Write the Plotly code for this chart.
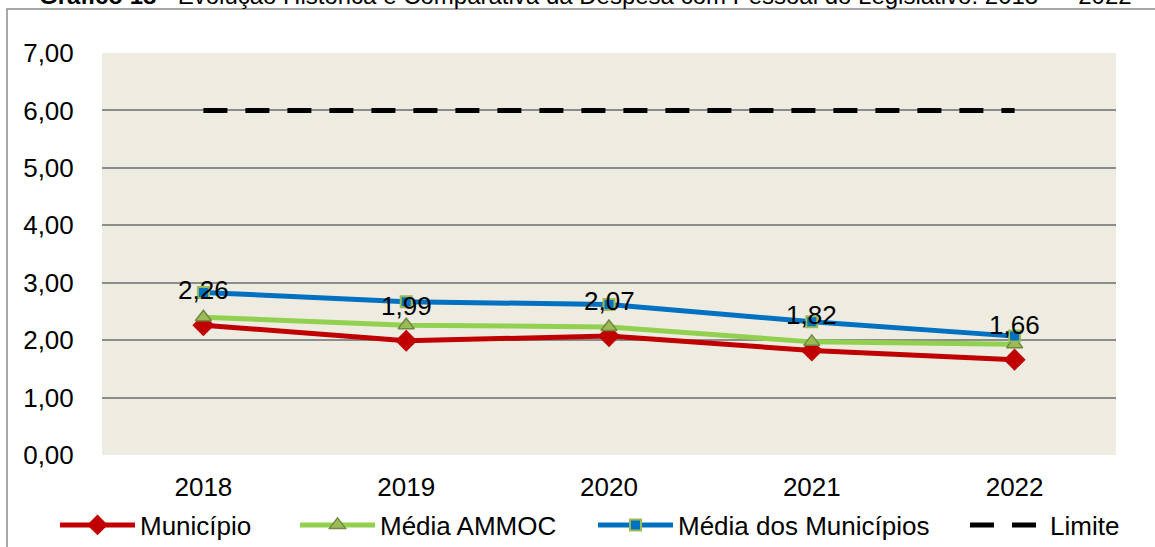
import plotly.graph_objects as go

# Series data
years = ["2018", "2019", "2020", "2021", "2022"]
municipio = [2.26, 1.99, 2.07, 1.82, 1.66]
media_ammoc = [2.40, 2.26, 2.23, 1.97, 1.93]
media_municipios = [2.83, 2.67, 2.62, 2.32, 2.07]
limite = [6.00, 6.00, 6.00, 6.00, 6.00]
y_ticks = [0, 1, 2, 3, 4, 5, 6, 7]

FONT = "Liberation Sans, Arial, sans-serif"
FS = 26

W, H = 1155, 547
L, R, T, B = 102, 39, 53, 92
PH = H - T - B
PW = W - L - R


def py(pix):
    """Pixel row (from top of the figure) to paper y."""
    return (H - B - pix) / PH


def px(pix):
    """Pixel column to paper x."""
    return (pix - L) / PW


fig = go.Figure()

fig.add_trace(go.Scatter(
    x=years, y=municipio, name="Município", mode="lines+markers", legend="legend",
    line=dict(color="#C00000", width=5),
    marker=dict(symbol="diamond", size=17, color="#C00000",
                line=dict(color="#C00000", width=0)),
))
fig.add_trace(go.Scatter(
    x=years, y=media_ammoc, name="Média AMMOC", mode="lines+markers", legend="legend2",
    line=dict(color="#92D050", width=5),
    marker=dict(symbol="triangle-up", size=14, color="#9BBB59",
                line=dict(color="#71893F", width=1.5)),
))
fig.add_trace(go.Scatter(
    x=years, y=media_municipios, name="Média dos Municípios", mode="lines+markers",
    legend="legend3",
    line=dict(color="#0070C0", width=5),
    marker=dict(symbol="square", size=11, color="#0070C0",
                line=dict(color="#9BBB59", width=2)),
))
fig.add_trace(go.Scatter(
    x=years, y=limite, name="Limite", mode="lines", legend="legend4",
    line=dict(color="#000000", width=5, dash="24px,18px"),
))

# Value labels for the Município series, lifted above the lines
for i, v in enumerate(municipio):
    fig.add_annotation(
        x=i, y=v, xref="x", yref="y", text=f"{v:.2f}".replace(".", ","),
        showarrow=False, yshift=35, font=dict(family=FONT, size=FS, color="#000000"),
    )

# Title (partially above the canvas edge)
fig.add_annotation(
    x=px(585), y=py(11), xref="paper", yref="paper", xanchor="center", yanchor="bottom",
    text="<b>Gráfico 18</b> - Evolução Histórica e Comparativa da Despesa com Pessoal do Legislativo: 2018  –  2022",
    showarrow=False, font=dict(family=FONT, size=24, color="#000000"),
)

# Outer chart frame
fig.add_shape(
    type="rect", xref="paper", yref="paper",
    x0=px(7), x1=px(1300), y0=py(9), y1=py(700),
    line=dict(color="#8C8C8C", width=1.5), fillcolor="rgba(0,0,0,0)", layer="below",
)


def legend_at(x_pix):
    return dict(
        orientation="h", x=px(x_pix), xanchor="left", y=py(525), yanchor="middle",
        font=dict(family=FONT, size=FS, color="#000000"),
        bgcolor="rgba(0,0,0,0)", itemwidth=75,
    )


fig.update_layout(
    width=W, height=H,
    margin=dict(l=L, r=R, t=T, b=B, autoexpand=False),
    paper_bgcolor="#FFFFFF",
    plot_bgcolor="#EEECE1",
    separators=",.",
    font=dict(family=FONT, size=FS, color="#000000"),
    showlegend=True,
    legend=legend_at(55),
    legend2=legend_at(295),
    legend3=legend_at(593),
    legend4=legend_at(965),
    xaxis=dict(
        type="category", range=[-0.5, 4.5], showgrid=False, zeroline=False,
        showline=False, ticks="outside", ticklen=9, tickcolor="rgba(0,0,0,0)",
        tickfont=dict(family=FONT, size=FS, color="#000000"), automargin=False,
    ),
    yaxis=dict(
        range=[0, 7], tickvals=y_ticks, tickformat=".2f",
        showgrid=True, gridcolor="#8C8C8C", gridwidth=2, zeroline=False,
        showline=False, ticks="outside", ticklen=22, tickcolor="rgba(0,0,0,0)",
        tickfont=dict(family=FONT, size=FS, color="#000000"), automargin=False,
    ),
)

fig.write_html("out.html")
